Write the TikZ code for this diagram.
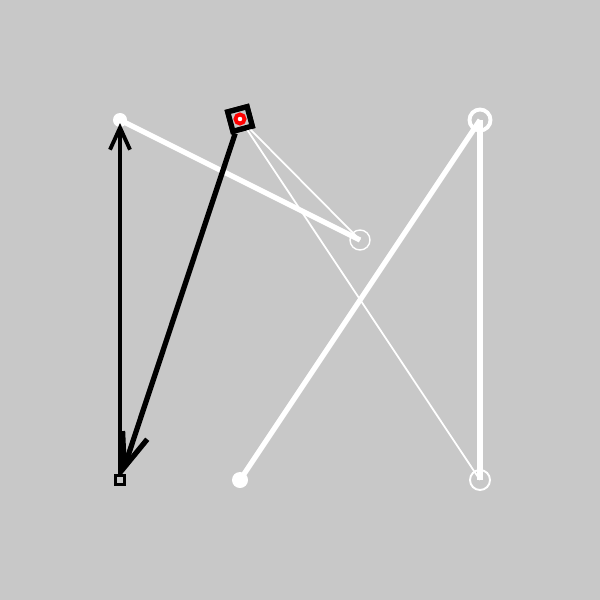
\documentclass[tikz,border=0pt]{standalone}
\usetikzlibrary{arrows.meta,positioning}
\definecolor{bggray}{RGB}{200,200,200}

\begin{document}
\begin{tikzpicture}[
            x=0.01cm, y=-0.01cm,
            dot/.style={circle, fill=white, inner sep=0pt, minimum size=#1},
            ring/.style={circle, draw=white, inner sep=0pt, minimum size=0.2cm},
            box/.style={draw=black, fill=bggray, inner sep=0pt, minimum size=#1},
            thickw/.style={white, line width=1.5pt},
            thinw/.style={white, line width=0.5pt},
            >=Straight Barb
        ]
        \fill[bggray] (0,0) rectangle (600,600);

        \node[dot=0.14cm] (a) at (120,120) {};
        \node[box=0.2cm, line width=1.5pt, rotate=15] (b) at (240,119) {};
        \node[ring, line width=0.4pt] (c) at (360,240) {};
        \node[ring, minimum size=0.21cm, line width=1.1pt] (d) at (480,120) {};
        \node[box=0.09cm, line width=0.6pt] (e) at (120,480) {};
        \node[dot=0.16cm] (f) at (240,480) {};
        \node[ring, line width=0.55pt] (g) at (480,480) {};

        % white connectors
        \draw[thickw] (a.center) -- (c.center);
        \draw[thinw] (b.center) -- (c.center);
        \draw[thinw] (b.center) -- (g.center);
        \draw[thickw] (f.center) -- (d.center);
        \draw[thickw] (d.center) -- (g.center);

        % marker on b goes over the thin lines
        \node[box=0.2cm, line width=1.5pt, rotate=15] at (b) {};
        \node[circle, draw=red, fill=white, line width=1.1pt, inner sep=0pt, minimum size=0.09cm] (bin) at (b) {};

        % black arrows
        \draw[->, line width=1.5pt, >={Straight Barb[length=0.34cm, width=0.26cm]}] (b) -- (e);
        \draw[->, line width=1.1pt, shorten >=0.03cm, >={Straight Barb[length=0.22cm, width=0.2cm]}] (e) -- (a.center);
    \end{tikzpicture}
\end{document}
